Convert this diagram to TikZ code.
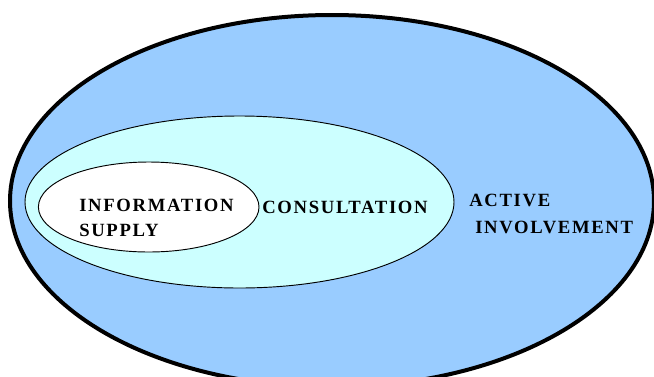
\documentclass[tikz,border=0pt]{standalone}
\usepackage{fontspec}
\newfontfamily\lblfont[LetterSpace=9]{Liberation Serif}
\definecolor{activeblue}{RGB}{153,204,255}
\definecolor{consultcyan}{RGB}{204,255,255}
\tikzset{
  lbl/.style={anchor=base west,inner sep=0pt,font=\lblfont\bfseries\fontsize{14}{16}\selectfont}
}
\begin{document}
\begin{tikzpicture}[x=0.75pt,y=0.75pt,yscale=-1,xscale=1]
    \clip (0,0) rectangle (654,376);
    %Shape: Ellipse [id:active]
    \draw  [fill=activeblue,line width=3pt] (332,201) ellipse [x radius=322, y radius=186];
    %Shape: Ellipse [id:consult]
    \draw  [fill=consultcyan,line width=0.7pt] (239.5,202) ellipse [x radius=214.5, y radius=86];
    %Shape: Ellipse [id:info]
    \draw  [fill=white,line width=0.7pt] (148.7,207) ellipse [x radius=110.3, y radius=45];

    % Text Node
    \node [lbl] (infoA) at (79,211) {INFORMATION};
    % Text Node
    \node [lbl] (infoB) at (79,236) {SUPPLY};
    % Text Node
    \node [lbl] (consultL) at (262,213.5) {CONSULTATION};
    % Text Node
    \node [lbl] (activeA) at (469,206.7) {ACTIVE};
    % Text Node
    \node [lbl] (activeB) at (475,233) {INVOLVEMENT};
\end{tikzpicture}
\end{document}
